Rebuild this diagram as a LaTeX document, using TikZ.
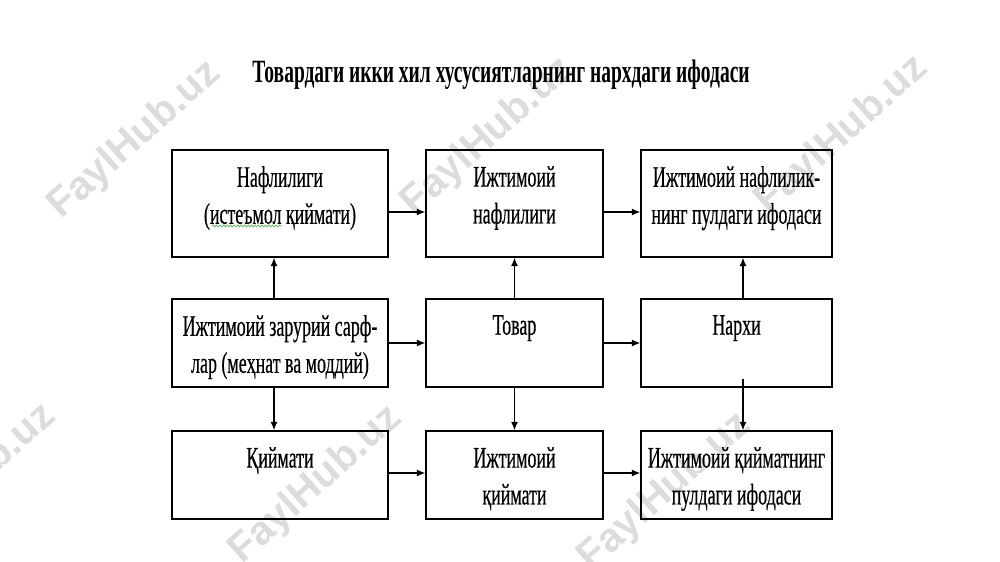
\documentclass[tikz,border=0pt]{standalone}
\usepackage{fontspec}
\setmainfont[FakeStretch=0.6]{Liberation Serif}
\newfontfamily\boxfont[FakeStretch=0.6,FakeBold=0.4]{Liberation Serif}
\newfontfamily\wmfont{Liberation Sans}
\usepackage{xcolor}
\definecolor{mark-gray}{RGB}{220,220,220}
\definecolor{spell-green}{RGB}{90,180,90}
\usepackage{tikz}
\usetikzlibrary{arrows.meta,decorations.pathmorphing}

\begin{document}
\begin{tikzpicture}[>={Latex[length=0.17cm,width=0.14cm]},
	block/.style={draw, line width=0.8pt, minimum height=1.76cm, inner sep=0pt},
	lbl/.style={anchor=north, inner sep=0pt, yshift=-0.33cm, align=center,
		font=\boxfont\fontsize{17}{21}\selectfont},
	link/.style={->, line width=0.7pt}]
	
	\useasboundingbox (0,0) rectangle (20,11.24);
	\clip (0,0) rectangle (20,11.24);
	
	% watermarks
	\foreach \p in {(2.7,8.44),(9.76,8.5),(16.84,8.54),(-0.6,1.58),(6.32,1.54),(13.3,1.4)}
		\node[rotate=42, text=mark-gray, font=\wmfont\bfseries\fontsize{23}{23}\selectfont]
			at \p {FaylHub.uz};
	
	\node[anchor=base, font=\bfseries\fontsize{18.5}{22}\selectfont] (title) at (10.02,9.58)
		{Товардаги икки хил хусусиятларнинг нархдаги ифодаси};
	
	% top row
	\node[block, minimum width=4.32cm, minimum height=2.14cm,
		label={[lbl]north:{Нафлилиги\\(истеъмол қиймати)}}] (b11) at (5.6,7.17) {};
	\node[block, minimum width=3.54cm, minimum height=2.14cm,
		label={[lbl]north:{Ижтимоий\\нафлилиги}}] (b12) at (10.29,7.17) {};
	\node[block, minimum width=3.82cm, minimum height=2.14cm,
		label={[lbl]north:{Ижтимоий нафлилик-\\нинг пулдаги ифодаси}}] (b13) at (14.73,7.17) {};
	
	% middle row
	\node[block, minimum width=4.32cm,
		label={[lbl]north:{Ижтимоий зарурий сарф-\\лар (меҳнат ва моддий)}}] (b21) at (5.6,4.38) {};
	\node[block, minimum width=3.54cm,
		label={[lbl]north:Товар}] (b22) at (10.29,4.38) {};
	\node[block, minimum width=3.82cm,
		label={[lbl]north:Нархи}] (b23) at (14.73,4.38) {};
	
	% bottom row
	\node[block, minimum width=4.32cm,
		label={[lbl]north:Қиймати}] (b31) at (5.6,1.74) {};
	\node[block, minimum width=3.54cm,
		label={[lbl]north:{Ижтимоий\\қиймати}}] (b32) at (10.29,1.74) {};
	\node[block, minimum width=3.82cm,
		label={[lbl]north:{Ижтимоий қийматнинг\\пулдаги ифодаси}}] (b33) at (14.73,1.74) {};
	
	% spelling mark
	\draw[spell-green, line width=0.4pt, decorate,
		decoration={snake, amplitude=0.02cm, segment length=0.07cm}]
		(4.24,6.72) -- (5.64,6.72);
	
	% horizontal arrows
	\draw[link] ([yshift=-0.17cm]b11.east) -- ([yshift=-0.17cm]b12.west);
	\draw[link] ([yshift=-0.17cm]b12.east) -- ([yshift=-0.17cm]b13.west);
	\draw[link] (b21.east) -- (b22.west);
	\draw[link] (b22.east) -- (b23.west);
	\draw[link] ([yshift=0.04cm]b31.east) -- ([yshift=0.04cm]b32.west);
	\draw[link] ([yshift=0.04cm]b32.east) -- ([yshift=0.04cm]b33.west);
	
	% vertical arrows
	\draw[link] ([xshift=-0.12cm]b21.north) -- ([xshift=-0.12cm]b11.south);
	\draw[link] (b22.north) -- (b12.south);
	\draw[link] ([xshift=0.13cm]b23.north) -- ([xshift=0.13cm]b13.south);
	\draw[link] ([xshift=-0.12cm]b21.south) -- ([xshift=-0.12cm]b31.north);
	\draw[link] (b22.south) -- (b32.north);
	\draw[link] ([xshift=0.13cm,yshift=0.18cm]b23.south) -- ([xshift=0.13cm]b33.north);
	
\end{tikzpicture}
\end{document}
